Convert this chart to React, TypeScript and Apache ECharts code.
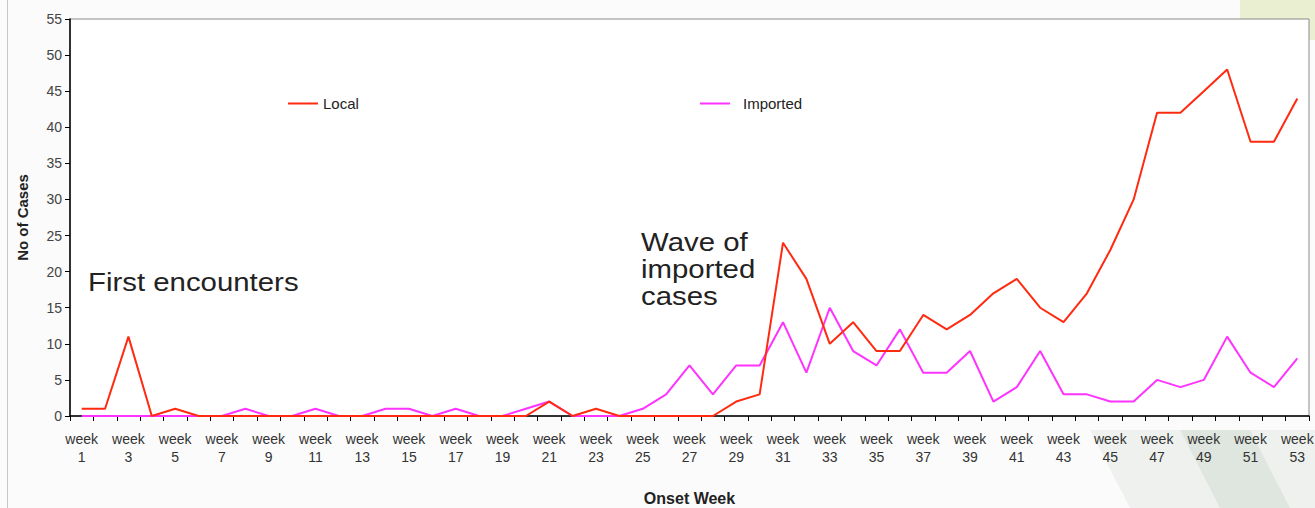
import React, { useEffect, useRef } from "react";
import * as echarts from "echarts";

const weeks: string[] = Array.from({ length: 53 }, (_, i) => `week\n${i + 1}`);

const localCases: number[] = [
  1, 1, 11, 0, 1, 0, 0, 0, 0, 0,
  0, 0, 0, 0, 0, 0, 0, 0, 0, 0,
  2, 0, 1, 0, 0, 0, 0, 0, 2, 3,
  24, 19, 10, 13, 9, 9, 14, 12, 14, 17,
  19, 15, 13, 17, 23, 30, 42, 42, 45, 48,
  38, 38, 44,
];

const importedCases: number[] = [
  0, 0, 0, 0, 0, 0, 0, 1, 0, 0,
  1, 0, 0, 1, 1, 0, 1, 0, 0, 1,
  2, 0, 0, 0, 1, 3, 7, 3, 7, 7,
  13, 6, 15, 9, 7, 12, 6, 6, 9, 2,
  4, 9, 3, 3, 2, 2, 5, 4, 5, 11,
  6, 4, 8,
];

const yTicks = { min: 0, max: 55, interval: 5 };

export default function App() {
  const ref = useRef<HTMLDivElement>(null);
  useEffect(() => {
    if (!ref.current) return;
    const chart = echarts.init(ref.current, null, { renderer: "svg" });
    const font = "'Liberation Sans', Arial, sans-serif";
    chart.setOption({
      animation: false,
      backgroundColor: "#fbfbfb",
      textStyle: { fontFamily: font },
      graphic: [
        { type: "rect", shape: { x: 1240, y: 0, width: 75, height: 40 }, style: { fill: "#eaefd2" }, silent: true, z: -10 },
        { type: "polygon", shape: { points: [[1090, 430], [1315, 430], [1315, 508], [1130, 508]] }, style: { fill: "#eef1ee" }, silent: true, z: -10 },
        { type: "polygon", shape: { points: [[1180, 430], [1250, 430], [1290, 508], [1220, 508]] }, style: { fill: "#dfe6df" }, silent: true, z: -10 },
        { type: "line", shape: { x1: 7.5, y1: 0, x2: 7.5, y2: 508 }, style: { stroke: "#c8c8c8", lineWidth: 1 }, silent: true },
        { type: "text", x: 88, y: 269, scaleX: 1.13, style: { text: "First encounters", font: `26px ${font}`, fill: "#222" } },
        { type: "text", x: 641, y: 229, scaleX: 1.13, style: { text: "Wave of\nimported\ncases", font: `26px ${font}`, fill: "#222", lineHeight: 27 } },
      ],
      grid: {
        left: 70, right: 6, top: 19, bottom: 92,
        containLabel: false,
        outerBoundsMode: "none",
        show: true, backgroundColor: "#ffffff", borderColor: "#8a8a8a", borderWidth: 1,
      },
      legend: [
        {
          left: 283, top: 91, data: ["Local"], icon: "rect", itemWidth: 30, itemHeight: 2, itemGap: 10,
          textStyle: { fontSize: 15, color: "#222", fontFamily: font },
        },
        {
          left: 695, top: 91, data: ["Imported"], icon: "rect", itemWidth: 30, itemHeight: 2, itemGap: 10,
          textStyle: { fontSize: 15, color: "#222", fontFamily: font, padding: [0, 0, 0, 8] },
        },
      ],
      xAxis: {
        type: "category",
        data: weeks,
        boundaryGap: true,
        name: "Onset Week",
        nameLocation: "middle",
        nameGap: 74,
        nameTextStyle: { fontSize: 16, fontWeight: "bold", color: "#222" },
        axisLine: { lineStyle: { color: "#000", width: 1.5 } },
        axisTick: { show: true, interval: 0, length: 5, lineStyle: { color: "#000" } },
        axisLabel: { interval: 1, fontSize: 14, color: "#333", lineHeight: 18, margin: 14 },
        splitLine: { show: false },
      },
      yAxis: {
        type: "value",
        min: yTicks.min, max: yTicks.max, interval: yTicks.interval,
        name: "No of Cases",
        nameLocation: "middle",
        nameRotate: 90,
        nameGap: 40,
        nameTextStyle: { fontSize: 15, fontWeight: "bold", color: "#222" },
        axisLine: { show: true, lineStyle: { color: "#000", width: 1.5 } },
        axisTick: { show: true, length: 5, lineStyle: { color: "#000" } },
        axisLabel: { fontSize: 14, color: "#444", margin: 8 },
        splitLine: { show: false },
      },
      series: [
        {
          name: "Local", type: "line", data: localCases, symbol: "none",
          lineStyle: { color: "#ff2a10", width: 2 }, itemStyle: { color: "#ff2a10" }, z: 3,
        },
        {
          name: "Imported", type: "line", data: importedCases, symbol: "none",
          lineStyle: { color: "#ff33ff", width: 2 }, itemStyle: { color: "#ff33ff" }, z: 2,
        },
      ],
    });
    return () => chart.dispose();
  }, []);
  return <div ref={ref} style={{ position: "absolute", left: 0, top: 0, width: 1315, height: 508 }} />;
}
